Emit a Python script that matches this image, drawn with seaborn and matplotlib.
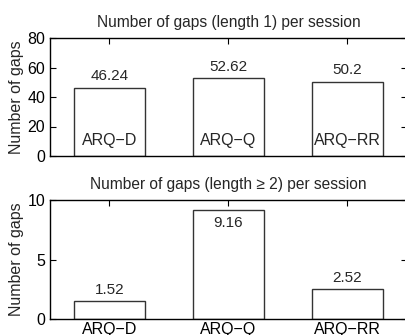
import matplotlib
matplotlib.use("Agg")
import matplotlib.pyplot as plt
import matplotlib.transforms as mtransforms
import seaborn as sns
import pandas as pd

categories = ["ARQ\u2212D", "ARQ\u2212Q", "ARQ\u2212RR"]
gaps_len1 = [46.24, 52.62, 50.2]
gaps_len2 = [1.52, 9.16, 2.52]
labels_len1 = ["46.24", "52.62", "50.2"]
labels_len2 = ["1.52", "9.16", "2.52"]

sns.set_style("white")
plt.rcParams["font.family"] = ["Liberation Sans", "DejaVu Sans"]
plt.rcParams["font.size"] = 10

fig = plt.figure(figsize=(4.06, 3.35), dpi=100)
ax1 = fig.add_axes([50/406, (335-156)/335, 357/406, 118/335])
ax2 = fig.add_axes([50/406, (335-319)/335, 357/406, 119/335])

df1 = pd.DataFrame({"cat": categories, "val": gaps_len1})
df2 = pd.DataFrame({"cat": categories, "val": gaps_len2})

for ax, df in ((ax1, df1), (ax2, df2)):
    sns.barplot(data=df, x="cat", y="val", order=categories, ax=ax,
                color="white", edgecolor="#333333", linewidth=1.0,
                width=0.6, saturation=1)
    ax.set_xlim(-0.5, 2.5)
    ax.set_xlabel("")
    ax.set_ylabel("Number of gaps", fontsize=11.5)
    ax.yaxis.set_label_coords(-0.072, 0.5)
    for s in ax.spines.values():
        s.set_visible(True)
        s.set_color("black")
        s.set_linewidth(1.0)
    ax.tick_params(axis="both", direction="in", length=4, width=0.8,
                   top=True, right=True, bottom=True, left=True,
                   labelsize=11.5, colors="black")

# top panel
ax1.set_ylim(0, 80)
ax1.set_yticks([0, 20, 40, 60, 80])
ax1.set_xticks(range(len(categories)))
ax1.set_xticklabels([])
ax1.set_title("Number of gaps (length 1) per session", fontsize=11.2, pad=8)
trans1 = mtransforms.blended_transform_factory(ax1.transData, ax1.transAxes)
for i, c in enumerate(categories):
    ax1.text(i, 0.13, c, transform=trans1, ha="center", va="center", fontsize=11.5)
for i, (v, t) in enumerate(zip(gaps_len1, labels_len1)):
    ax1.text(i, v + 8, t, ha="center", va="center", fontsize=11)

# bottom panel
ax2.set_ylim(0, 10)
ax2.set_yticks([0, 5, 10])
ax2.set_xticks(range(len(categories)))
ax2.set_xticklabels(categories, fontsize=11.5)
ax2.tick_params(axis="x", pad=2)
ax2.set_title("Number of gaps (length \u2265 2) per session", fontsize=11.2, pad=8)
offsets2 = [0.9, -1.1, 0.9]
for i, (v, t, o) in enumerate(zip(gaps_len2, labels_len2, offsets2)):
    ax2.text(i, v + o, t, ha="center", va="center", fontsize=11)

fig.savefig("out.png", dpi=100)
